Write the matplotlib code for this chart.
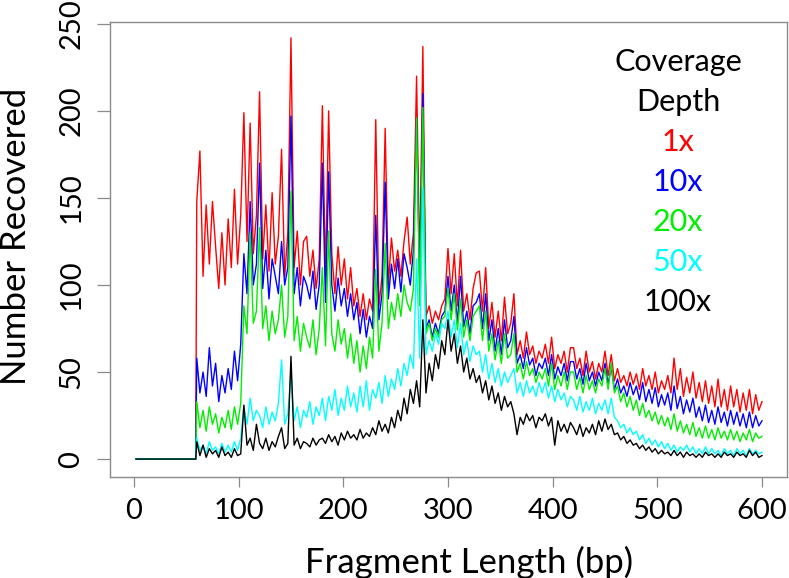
import matplotlib
matplotlib.use("Agg")
import matplotlib.pyplot as plt

plt.rcParams['font.family'] = ['Lato', 'DejaVu Sans']

# fragment lengths (bp): flat zero stretch, then every 3 bp from 60 to 600
bp = [2, 59] + list(range(60, 601, 3))

cov_1x = [0, 0,
    148, 177, 105, 146, 112, 148, 122, 98, 130, 100,
    138, 110, 155, 112, 140, 199, 125, 193, 118, 140,
    211, 115, 146, 108, 153, 112, 128, 178, 105, 130,
    242, 110, 131, 100, 125, 128, 105, 120, 98, 115,
    203, 105, 200, 118, 95, 122, 100, 115, 92, 110,
    88, 98, 82, 95, 80, 92, 85, 195, 88, 105,
    190, 100, 127, 108, 120, 105, 125, 139, 112, 130,
    220, 110, 237, 82, 88, 78, 85, 80, 88, 92,
    121, 95, 118, 88, 120, 85, 95, 80, 98, 107,
    108, 85, 110, 75, 90, 70, 85, 68, 93, 72,
    78, 95, 60, 68, 58, 73, 60, 65, 55, 62,
    58, 66, 55, 70, 52, 60, 55, 62, 50, 64,
    64, 52, 58, 48, 62, 50, 56, 46, 55, 50,
    62, 48, 60, 45, 52, 44, 48, 42, 50, 43,
    49, 40, 52, 42, 48, 40, 50, 38, 45, 40,
    48, 38, 58, 40, 52, 36, 47, 38, 50, 35,
    44, 33, 45, 32, 42, 30, 46, 30, 40, 28,
    42, 30, 40, 27, 38, 28, 40, 26, 37, 28,
    33]

cov_10x = [0, 0,
    58, 38, 50, 36, 64, 42, 55, 33, 48, 38,
    52, 40, 62, 45, 66, 118, 95, 148, 100, 112,
    170, 98, 120, 92, 115, 105, 95, 125, 100, 110,
    197, 95, 110, 88, 105, 100, 92, 108, 86, 100,
    170, 90, 165, 100, 85, 104, 88, 98, 82, 95,
    80, 90, 72, 86, 70, 82, 75, 140, 80, 95,
    159, 92, 112, 98, 115, 96, 118, 110, 100, 120,
    196, 98, 210, 75, 80, 70, 78, 72, 82, 85,
    105, 85, 100, 78, 105, 76, 85, 72, 88, 90,
    95, 75, 95, 68, 80, 62, 75, 60, 80, 64,
    68, 82, 55, 60, 52, 64, 54, 58, 48, 55,
    52, 58, 48, 60, 46, 53, 48, 55, 45, 56,
    56, 46, 52, 43, 55, 45, 50, 42, 50, 45,
    55, 43, 53, 40, 46, 38, 42, 36, 44, 37,
    42, 34, 44, 33, 40, 32, 41, 30, 37, 31,
    38, 28, 42, 29, 36, 26, 34, 27, 35, 24,
    30, 22, 31, 21, 28, 20, 30, 21, 27, 19,
    28, 20, 27, 19, 26, 18, 27, 18, 25, 19,
    22]

cov_20x = [0, 0,
    33, 18, 28, 16, 30, 20, 26, 15, 24, 18,
    28, 17, 30, 20, 32, 88, 72, 130, 78, 85,
    133, 75, 88, 68, 85, 72, 80, 100, 70, 82,
    154, 68, 82, 62, 78, 70, 64, 80, 60, 75,
    110, 65, 131, 72, 62, 80, 66, 75, 58, 72,
    55, 68, 50, 65, 52, 70, 58, 109, 62, 78,
    124, 75, 90, 80, 95, 82, 100, 90, 85, 98,
    196, 88, 202, 72, 78, 68, 75, 70, 80, 82,
    98, 80, 95, 74, 92, 70, 80, 68, 82, 85,
    88, 68, 85, 62, 72, 57, 68, 55, 72, 58,
    60, 72, 50, 55, 46, 56, 48, 52, 44, 50,
    46, 52, 42, 55, 40, 48, 42, 50, 40, 50,
    50, 40, 47, 38, 48, 40, 45, 38, 46, 42,
    52, 40, 55, 38, 42, 33, 38, 30, 36, 28,
    34, 25, 32, 24, 28, 22, 27, 20, 25, 19,
    24, 17, 26, 16, 22, 15, 20, 14, 21, 13,
    18, 12, 19, 12, 17, 11, 18, 12, 16, 11,
    17, 11, 16, 10, 15, 11, 17, 10, 15, 12,
    13]

cov_50x = [0, 0,
    12, 5, 8, 3, 10, 5, 7, 3, 9, 4,
    8, 4, 10, 5, 12, 30, 20, 35, 22, 28,
    25, 18, 30, 20, 27, 22, 32, 57, 20, 26,
    50, 22, 30, 18, 28, 24, 33, 20, 30, 25,
    35, 22, 36, 28, 40, 25, 35, 28, 42, 30,
    38, 27, 42, 30, 45, 28, 40, 35, 44, 32,
    48, 36, 46, 40, 52, 42, 55, 48, 60, 52,
    115, 58, 156, 60, 68, 62, 72, 66, 78, 75,
    85, 70, 80, 64, 78, 60, 68, 56, 65, 60,
    62, 50, 60, 46, 55, 44, 52, 42, 50, 44,
    48, 52, 38, 44, 36, 45, 38, 42, 36, 44,
    38, 44, 35, 42, 33, 40, 34, 38, 30, 36,
    34, 28, 36, 27, 33, 28, 35, 26, 32, 28,
    34, 26, 35, 24, 22, 18, 20, 15, 18, 14,
    16, 11, 14, 9, 12, 8, 11, 7, 10, 6,
    9, 5, 8, 4, 7, 5, 8, 4, 7, 3,
    6, 3, 7, 3, 6, 3, 5, 2, 6, 3,
    5, 2, 6, 3, 5, 2, 6, 3, 5, 3,
    4]

cov_100x = [0, 0,
    10, 2, 8, 1, 6, 3, 5, 1, 7, 2,
    4, 1, 6, 2, 3, 31, 8, 12, 5, 20,
    9, 6, 12, 5, 10, 7, 13, 18, 6, 9,
    59, 8, 12, 6, 10, 9, 7, 12, 8, 11,
    12, 9, 14, 10, 13, 8, 15, 11, 16, 12,
    14, 11, 17, 12, 15, 13, 18, 14, 22, 16,
    20, 15, 24, 18, 28, 22, 35, 26, 40, 32,
    45, 30, 80, 38, 55, 45, 60, 52, 68, 60,
    80, 62, 72, 55, 65, 50, 58, 46, 52, 44,
    48, 38, 45, 34, 42, 32, 38, 28, 36, 30,
    33, 26, 14, 24, 20, 26, 22, 25, 18, 24,
    22, 26, 19, 24, 8, 22, 16, 20, 15, 21,
    18, 14, 20, 13, 18, 15, 20, 14, 22, 16,
    23, 17, 20, 14, 15, 11, 13, 9, 11, 8,
    9, 6, 8, 5, 7, 4, 6, 3, 5, 3,
    4, 2, 5, 2, 4, 1, 4, 2, 3, 1,
    3, 1, 4, 2, 3, 1, 3, 1, 4, 2,
    3, 1, 4, 2, 3, 1, 5, 2, 4, 1,
    2]

series_labels = ["1x", "10x", "20x", "50x", "100x"]
series_values = [cov_1x, cov_10x, cov_20x, cov_50x, cov_100x]
series_colors = ["#FF0000", "#0000FF", "#00EE00", "#00FFFF", "#000000"]

x_ticks = [0, 100, 200, 300, 400, 500, 600]
y_ticks = [0, 50, 100, 150, 200, 250]

W, H = 789, 578
fig = plt.figure(figsize=(W / 100, H / 100), dpi=100)
ax = fig.add_axes([110 / W, 1 - 477 / H, (787 - 110) / W, (477 - 22) / H])

for vals, col in zip(series_values, series_colors):
    ax.plot(bp, vals, color=col, linewidth=1.0)

ax.set_xlim(-22.9, 623.9)
ax.set_ylim(-10.3, 251.1)
ax.set_xticks(x_ticks)
ax.set_yticks(y_ticks)
ax.set_xticklabels([str(t) for t in x_ticks])
ax.set_yticklabels([str(t) for t in y_ticks], rotation=90, va='center')

for s in ax.spines.values():
    s.set_color('#8a8a8a')
    s.set_linewidth(1.0)
ax.tick_params(axis='both', colors='#8a8a8a', width=0.9, labelcolor='black',
               labelsize=21)
ax.tick_params(axis='y', length=9.4, pad=9)
ax.tick_params(axis='x', length=7.2, pad=8)

fig.text(469 / W, 1 - 562 / H, "Fragment Length (bp)", ha='center', va='center',
         fontsize=25)
fig.text(16 / W, 1 - 236 / H, "Number Recovered", ha='center', va='center',
         rotation=90, fontsize=25)

fig.text(678 / W, 1 - 62 / H, "Coverage", ha='center', va='center', fontsize=22)
fig.text(678 / W, 1 - 102 / H, "Depth", ha='center', va='center', fontsize=22)
legend_y = [142, 182, 222, 262, 302]
for lab, col, yy in zip(series_labels, series_colors, legend_y):
    fig.text(678 / W, 1 - yy / H, lab, ha='center', va='center', fontsize=22,
             color=col)

fig.savefig("out.png", dpi=100)
